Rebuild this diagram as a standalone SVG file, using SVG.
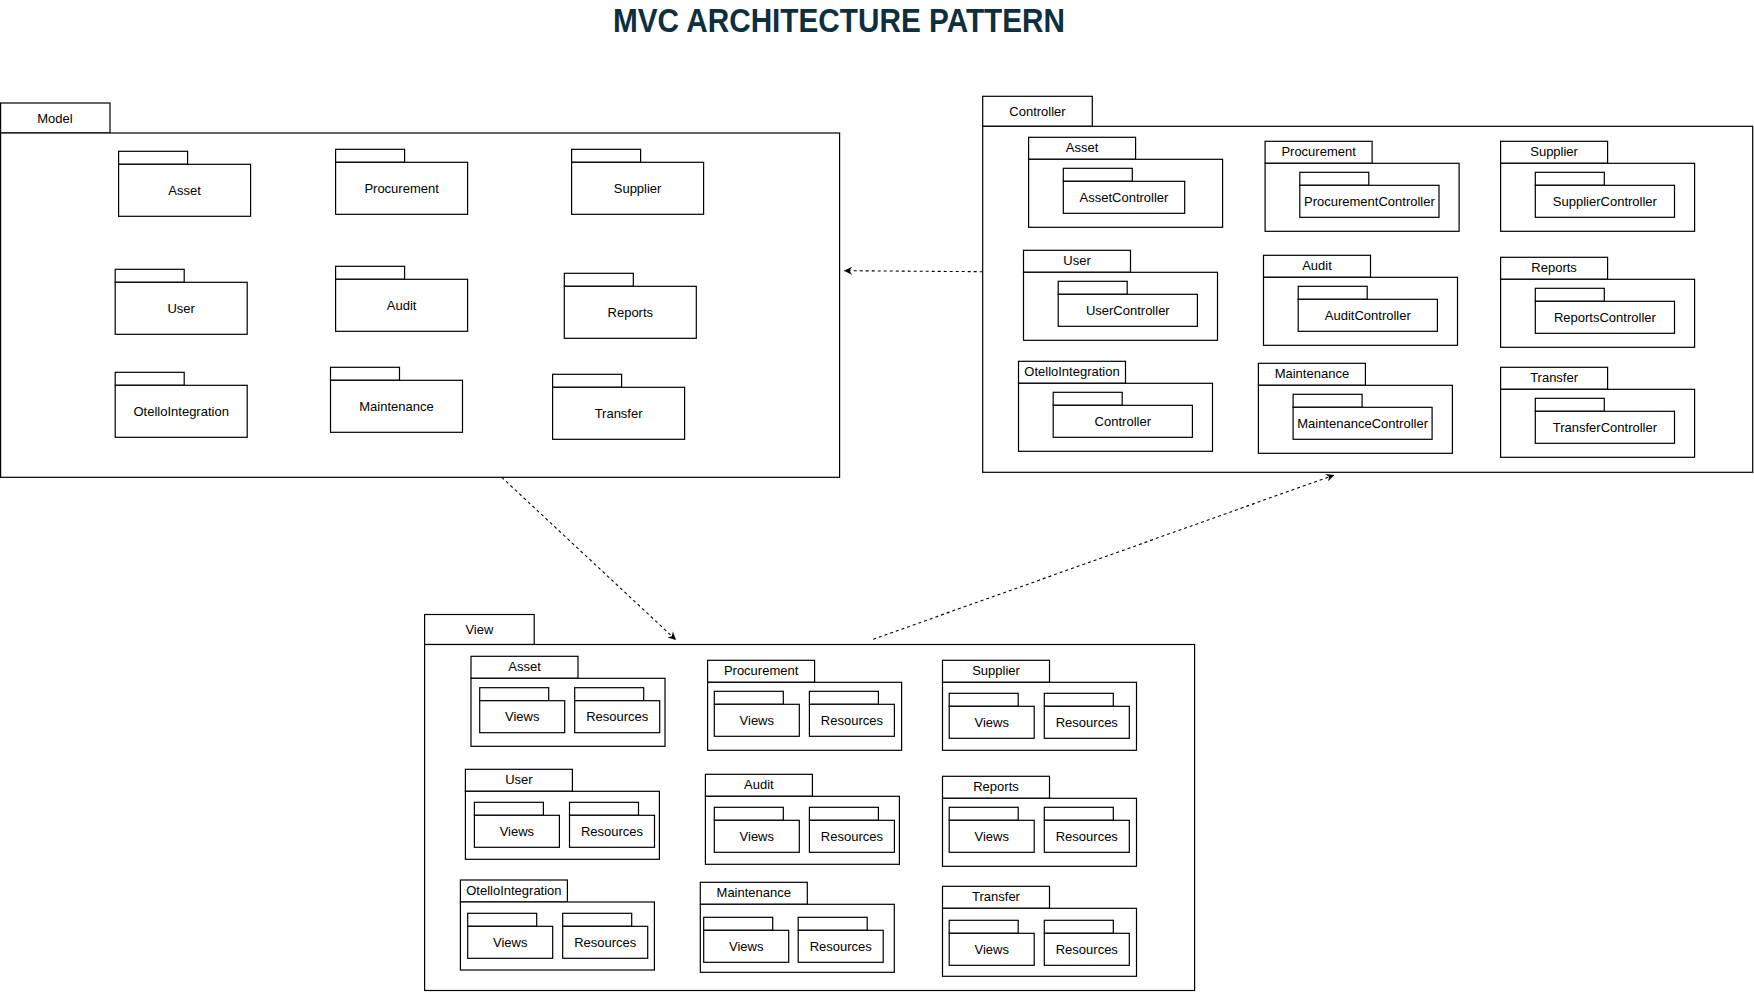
<svg xmlns="http://www.w3.org/2000/svg" width="1754" height="992" viewBox="0 0 1754 992">
<style>
.b{fill:#fff;stroke:#000;stroke-width:1.2}
.t{font-family:"Liberation Sans",Arial,sans-serif;font-size:13px;fill:#000;text-anchor:middle}
.c{fill:none;stroke:#000;stroke-width:1.1;stroke-dasharray:3 3}
.title{font-family:"Liberation Sans",Arial,sans-serif;font-size:32.5px;font-weight:bold;fill:#0e2f3e;text-anchor:middle}
</style>
<defs>
<marker id="arr" markerUnits="userSpaceOnUse" viewBox="0 0 10 10" refX="10" refY="5" markerWidth="9" markerHeight="8" orient="auto">
<path d="M0,0 L10,5 L0,10 L3,5 z" fill="#000"/>
</marker>
</defs>
<rect width="1754" height="992" fill="#fff"/>
<text class="title" x="839" y="31.7" textLength="452" lengthAdjust="spacingAndGlyphs">MVC ARCHITECTURE PATTERN</text>

<g id="model">
<rect class="b" x="0.6" y="103" width="109.4" height="30"/>
<rect class="b" x="0.6" y="133" width="839" height="344.3"/>
<text class="t" x="55" y="122.5">Model</text>
<g id="m-asset"><rect class="b" x="118.6" y="151.3" width="69" height="13"/><rect class="b" x="118.6" y="164.3" width="132" height="52"/><text class="t" x="184.6" y="194.8">Asset</text></g>
<g id="m-procurement"><rect class="b" x="335.6" y="149.3" width="69" height="13"/><rect class="b" x="335.6" y="162.3" width="132" height="52"/><text class="t" x="401.6" y="192.8">Procurement</text></g>
<g id="m-supplier"><rect class="b" x="571.6" y="149.3" width="69" height="13"/><rect class="b" x="571.6" y="162.3" width="132" height="52"/><text class="t" x="637.6" y="192.8">Supplier</text></g>
<g id="m-user"><rect class="b" x="115.2" y="269.3" width="69" height="13"/><rect class="b" x="115.2" y="282.3" width="132" height="52"/><text class="t" x="181.2" y="312.8">User</text></g>
<g id="m-audit"><rect class="b" x="335.6" y="266.3" width="69" height="13"/><rect class="b" x="335.6" y="279.3" width="132" height="52"/><text class="t" x="401.6" y="309.8">Audit</text></g>
<g id="m-reports"><rect class="b" x="564.3" y="273.3" width="69" height="13"/><rect class="b" x="564.3" y="286.3" width="132" height="52"/><text class="t" x="630.3" y="316.8">Reports</text></g>
<g id="m-otello"><rect class="b" x="115.2" y="372.3" width="69" height="13"/><rect class="b" x="115.2" y="385.3" width="132" height="52"/><text class="t" x="181.2" y="415.8">OtelloIntegration</text></g>
<g id="m-maintenance"><rect class="b" x="330.5" y="367.3" width="69" height="13"/><rect class="b" x="330.5" y="380.3" width="132" height="52"/><text class="t" x="396.5" y="410.8">Maintenance</text></g>
<g id="m-transfer"><rect class="b" x="552.6" y="374.3" width="69" height="13"/><rect class="b" x="552.6" y="387.3" width="132" height="52"/><text class="t" x="618.6" y="417.8">Transfer</text></g>
</g>

<g id="controller">
<rect class="b" x="982.7" y="96.3" width="109.6" height="30"/>
<rect class="b" x="982.7" y="126.3" width="770" height="346"/>
<text class="t" x="1037.5" y="115.5">Controller</text>
<g id="c-asset"><rect class="b" x="1028.6" y="137.3" width="107" height="22"/><text class="t" x="1082.1" y="152.3">Asset</text><rect class="b" x="1028.6" y="159.3" width="194" height="68"/><rect class="b" x="1063.3" y="168.3" width="69" height="13"/><rect class="b" x="1063.3" y="181.3" width="121.4" height="32"/><text class="t" x="1124" y="201.8">AssetController</text></g>
<g id="c-procurement"><rect class="b" x="1265.1" y="141.3" width="107" height="22"/><text class="t" x="1318.6" y="156.3">Procurement</text><rect class="b" x="1265.1" y="163.3" width="194" height="68"/><rect class="b" x="1299.8" y="172.3" width="69" height="13"/><rect class="b" x="1299.8" y="185.3" width="139.2" height="32"/><text class="t" x="1369.4" y="205.8">ProcurementController</text></g>
<g id="c-supplier"><rect class="b" x="1500.6" y="141.3" width="107" height="22"/><text class="t" x="1554.1" y="156.3">Supplier</text><rect class="b" x="1500.6" y="163.3" width="194" height="68"/><rect class="b" x="1535.3" y="172.3" width="69" height="13"/><rect class="b" x="1535.3" y="185.3" width="139.2" height="32"/><text class="t" x="1604.9" y="205.8">SupplierController</text></g>
<g id="c-user"><rect class="b" x="1023.5" y="250.3" width="107" height="22"/><text class="t" x="1077" y="265.3">User</text><rect class="b" x="1023.5" y="272.3" width="194" height="68"/><rect class="b" x="1058.2" y="281.3" width="69" height="13"/><rect class="b" x="1058.2" y="294.3" width="139.2" height="32"/><text class="t" x="1127.8" y="314.8">UserController</text></g>
<g id="c-audit"><rect class="b" x="1263.5" y="255.3" width="107" height="22"/><text class="t" x="1317" y="270.3">Audit</text><rect class="b" x="1263.5" y="277.3" width="194" height="68"/><rect class="b" x="1298.2" y="286.3" width="69" height="13"/><rect class="b" x="1298.2" y="299.3" width="139.2" height="32"/><text class="t" x="1367.8" y="319.8">AuditController</text></g>
<g id="c-reports"><rect class="b" x="1500.6" y="257.3" width="107" height="22"/><text class="t" x="1554.1" y="272.3">Reports</text><rect class="b" x="1500.6" y="279.3" width="194" height="68"/><rect class="b" x="1535.3" y="288.3" width="69" height="13"/><rect class="b" x="1535.3" y="301.3" width="139.2" height="32"/><text class="t" x="1604.9" y="321.8">ReportsController</text></g>
<g id="c-otello"><rect class="b" x="1018.5" y="361.3" width="107" height="22"/><text class="t" x="1072" y="376.3">OtelloIntegration</text><rect class="b" x="1018.5" y="383.3" width="194" height="68"/><rect class="b" x="1053.2" y="392.3" width="69" height="13"/><rect class="b" x="1053.2" y="405.3" width="139.2" height="32"/><text class="t" x="1122.8" y="425.8">Controller</text></g>
<g id="c-maintenance"><rect class="b" x="1258.4" y="363.3" width="107" height="22"/><text class="t" x="1311.9" y="378.3">Maintenance</text><rect class="b" x="1258.4" y="385.3" width="194" height="68"/><rect class="b" x="1293.1" y="394.3" width="69" height="13"/><rect class="b" x="1293.1" y="407.3" width="139" height="32"/><text class="t" x="1362.6" y="427.8">MaintenanceController</text></g>
<g id="c-transfer"><rect class="b" x="1500.6" y="367.3" width="107" height="22"/><text class="t" x="1554.1" y="382.3">Transfer</text><rect class="b" x="1500.6" y="389.3" width="194" height="68"/><rect class="b" x="1535.3" y="398.3" width="69" height="13"/><rect class="b" x="1535.3" y="411.3" width="139.2" height="32"/><text class="t" x="1604.9" y="431.8">TransferController</text></g>
</g>

<g id="view">
<rect class="b" x="424.6" y="614.5" width="109.6" height="30"/>
<rect class="b" x="424.6" y="644.5" width="770" height="346"/>
<text class="t" x="479.4" y="634">View</text>
<g id="v-asset"><rect class="b" x="471" y="656.3" width="107" height="22"/><text class="t" x="524.5" y="671.3">Asset</text><rect class="b" x="471" y="678.3" width="194" height="68"/>
<rect class="b" x="479.7" y="687.7" width="69" height="13"/><rect class="b" x="479.7" y="700.7" width="85" height="32"/><text class="t" x="522.2" y="721.2">Views</text>
<rect class="b" x="574.7" y="687.7" width="69" height="13"/><rect class="b" x="574.7" y="700.7" width="85" height="32"/><text class="t" x="617.2" y="721.2">Resources</text></g>
<g id="v-procurement"><rect class="b" x="707.6" y="660.3" width="107" height="22"/><text class="t" x="761.1" y="675.3">Procurement</text><rect class="b" x="707.6" y="682.3" width="194" height="68"/>
<rect class="b" x="714.3" y="691.3" width="69" height="13"/><rect class="b" x="714.3" y="704.3" width="85" height="32"/><text class="t" x="756.8" y="724.8">Views</text>
<rect class="b" x="809.4" y="691.3" width="69" height="13"/><rect class="b" x="809.4" y="704.3" width="85" height="32"/><text class="t" x="851.9" y="724.8">Resources</text></g>
<g id="v-supplier"><rect class="b" x="942.5" y="660.3" width="107" height="22"/><text class="t" x="996" y="675.3">Supplier</text><rect class="b" x="942.5" y="682.3" width="194" height="68"/>
<rect class="b" x="949.2" y="693.3" width="69" height="13"/><rect class="b" x="949.2" y="706.3" width="85" height="32"/><text class="t" x="991.7" y="726.8">Views</text>
<rect class="b" x="1044.3" y="693.3" width="69" height="13"/><rect class="b" x="1044.3" y="706.3" width="85" height="32"/><text class="t" x="1086.8" y="726.8">Resources</text></g>
<g id="v-user"><rect class="b" x="465.4" y="769.3" width="107" height="22"/><text class="t" x="518.9" y="784.3">User</text><rect class="b" x="465.4" y="791.3" width="194" height="68"/>
<rect class="b" x="474.4" y="802.3" width="69" height="13"/><rect class="b" x="474.4" y="815.3" width="85" height="32"/><text class="t" x="516.9" y="835.8">Views</text>
<rect class="b" x="569.5" y="802.3" width="69" height="13"/><rect class="b" x="569.5" y="815.3" width="85" height="32"/><text class="t" x="612" y="835.8">Resources</text></g>
<g id="v-audit"><rect class="b" x="705.4" y="774.3" width="107" height="22"/><text class="t" x="758.9" y="789.3">Audit</text><rect class="b" x="705.4" y="796.3" width="194" height="68"/>
<rect class="b" x="714.3" y="807.3" width="69" height="13"/><rect class="b" x="714.3" y="820.3" width="85" height="32"/><text class="t" x="756.8" y="840.8">Views</text>
<rect class="b" x="809.4" y="807.3" width="69" height="13"/><rect class="b" x="809.4" y="820.3" width="85" height="32"/><text class="t" x="851.9" y="840.8">Resources</text></g>
<g id="v-reports"><rect class="b" x="942.5" y="776.3" width="107" height="22"/><text class="t" x="996" y="791.3">Reports</text><rect class="b" x="942.5" y="798.3" width="194" height="68"/>
<rect class="b" x="949.2" y="807.3" width="69" height="13"/><rect class="b" x="949.2" y="820.3" width="85" height="32"/><text class="t" x="991.7" y="840.8">Views</text>
<rect class="b" x="1044.3" y="807.3" width="69" height="13"/><rect class="b" x="1044.3" y="820.3" width="85" height="32"/><text class="t" x="1086.8" y="840.8">Resources</text></g>
<g id="v-otello"><rect class="b" x="460.4" y="880" width="107" height="22"/><text class="t" x="513.9" y="895">OtelloIntegration</text><rect class="b" x="460.4" y="902" width="194" height="68"/>
<rect class="b" x="467.7" y="913.3" width="69" height="13"/><rect class="b" x="467.7" y="926.3" width="85" height="32"/><text class="t" x="510.2" y="946.8">Views</text>
<rect class="b" x="562.7" y="913.3" width="69" height="13"/><rect class="b" x="562.7" y="926.3" width="85" height="32"/><text class="t" x="605.2" y="946.8">Resources</text></g>
<g id="v-maintenance"><rect class="b" x="700.3" y="882.3" width="107" height="22"/><text class="t" x="753.8" y="897.3">Maintenance</text><rect class="b" x="700.3" y="904.3" width="194" height="68"/>
<rect class="b" x="703.7" y="917.3" width="69" height="13"/><rect class="b" x="703.7" y="930.3" width="85" height="32"/><text class="t" x="746.2" y="950.8">Views</text>
<rect class="b" x="798.2" y="917.3" width="69" height="13"/><rect class="b" x="798.2" y="930.3" width="85" height="32"/><text class="t" x="840.7" y="950.8">Resources</text></g>
<g id="v-transfer"><rect class="b" x="942.5" y="886.3" width="107" height="22"/><text class="t" x="996" y="901.3">Transfer</text><rect class="b" x="942.5" y="908.3" width="194" height="68"/>
<rect class="b" x="949.2" y="920.3" width="69" height="13"/><rect class="b" x="949.2" y="933.3" width="85" height="32"/><text class="t" x="991.7" y="953.8">Views</text>
<rect class="b" x="1044.3" y="920.3" width="69" height="13"/><rect class="b" x="1044.3" y="933.3" width="85" height="32"/><text class="t" x="1086.8" y="953.8">Resources</text></g>
</g>

<g id="connectors">
<path class="c" d="M982.7,271.7 L844,270.7" marker-end="url(#arr)"/>
<path class="c" d="M501.7,477.3 L676,640" marker-end="url(#arr)"/>
<path class="c" d="M873.2,639.3 L1334.3,475" marker-end="url(#arr)"/>
</g>
</svg>
